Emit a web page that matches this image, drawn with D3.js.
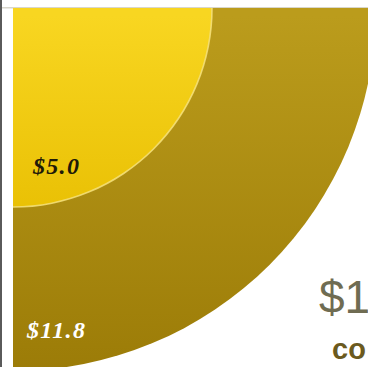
<!DOCTYPE html>
<html>
<head>
<meta charset="utf-8">
<script src="https://cdn.jsdelivr.net/npm/d3@7"></script>
<style>
  html, body { margin: 0; padding: 0; background: #fff; }
  svg { display: block; }
</style>
</head>
<body>
<div class="chart"></div>
<script>
var svgWidth = 368;
var svgHeight = 367;

// values drawn as nested quarter circles, biggest first
var labels = ['$11.8', '$5.0'];
var values = [11.8, 5.0];
var fillTop = ['#bb9c1c', '#f8d621'];
var fillBottom = ['#9b7b07', '#e9c004'];
var labelColors = ['#ffffff', '#1e1a08'];

var cx = 13, cy = 8;

var radius = d3.scalePow()
    .exponent(0.7)
    .domain([0, 11.8])
    .range([0, 363]);

var svg = d3.select('.chart').append('svg')
    .attr('width', svgWidth)
    .attr('height', svgHeight);

var defs = svg.append('defs');
values.forEach(function(d, i) {
    var g = defs.append('linearGradient')
        .attr('id', 'grad' + i)
        .attr('gradientUnits', 'userSpaceOnUse')
        .attr('x1', 0).attr('y1', cy)
        .attr('x2', 0).attr('y2', cy + radius(d));
    g.append('stop').attr('offset', '0%').attr('stop-color', fillTop[i]);
    g.append('stop').attr('offset', '100%').attr('stop-color', fillBottom[i]);
});

// frame lines
svg.append('rect').attr('x', 0).attr('y', 0).attr('width', 2).attr('height', svgHeight).attr('fill', '#5a5a5a');
svg.append('rect').attr('x', 2).attr('y', 7).attr('width', svgWidth).attr('height', 1.5).attr('fill', '#d8d6cc');

var arc = d3.arc()
    .innerRadius(0)
    .outerRadius(function(d) { return radius(d); })
    .startAngle(Math.PI / 2)
    .endAngle(Math.PI);

var plot = svg.append('g').attr('transform', 'translate(' + cx + ',' + cy + ')');

plot.selectAll('path.slice')
    .data(values)
    .enter()
    .append('path')
    .attr('class', 'slice')
    .attr('d', arc)
    .attr('fill', function(d, i) { return 'url(#grad' + i + ')'; });

// light rim along the inner circle
var rim = d3.arc()
    .innerRadius(function(d) { return radius(d) - 0.8; })
    .outerRadius(function(d) { return radius(d) + 0.8; })
    .startAngle(Math.PI / 2)
    .endAngle(Math.PI);
plot.append('path')
    .datum(values[1])
    .attr('d', rim)
    .attr('fill', '#f6e27e')
    .attr('opacity', 0.85);

plot.selectAll('text.val')
    .data(values)
    .enter()
    .append('text')
    .attr('class', 'val')
    .text(function(d, i) { return labels[i]; })
    .attr('x', function(d, i) { return i === 0 ? 14 : 20; })
    .attr('y', function(d) { return radius(d) - 33; })
    .attr('font-family', 'Liberation Serif, serif')
    .attr('font-style', 'italic')
    .attr('font-weight', 'bold')
    .attr('font-size', '24px')
    .attr('letter-spacing', '1.3px')
    .attr('fill', function(d, i) { return labelColors[i]; });

svg.append('text')
    .text('$1')
    .attr('x', 319)
    .attr('y', 313)
    .attr('font-family', 'Liberation Sans, sans-serif')
    .attr('font-size', '46px')
    .attr('fill', '#6f6c52');

svg.append('text')
    .text('co')
    .attr('x', 332)
    .attr('y', 359)
    .attr('font-family', 'Liberation Sans, sans-serif')
    .attr('font-weight', 'bold')
    .attr('font-size', '29px')
    .attr('fill', '#6b5a1e');
</script>
</body>
</html>
